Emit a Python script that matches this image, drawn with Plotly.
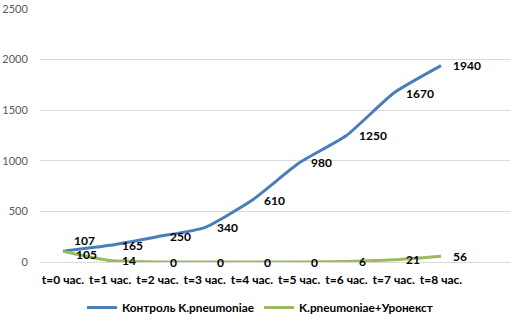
import plotly.graph_objects as go

categories = ["t=0 час.", "t=1 час.", "t=2 час.", "t=3 час.", "t=4 час.",
              "t=5 час.", "t=6 час.", "t=7 час.", "t=8 час."]
control = [107, 165, 250, 340, 610, 980, 1250, 1670, 1940]
treated = [105, 14, 0, 0, 0, 0, 6, 21, 56]
name_control = "Контроль K.pneumoniae"
name_treated = "K.pneumoniae+Уронекст"
y_ticks = [0, 500, 1000, 1500, 2000, 2500]

BLUE = "#4A7EBB"
GREEN = "#9BBB59"
FONT = "Lato"

xs = list(range(len(categories)))

fig = go.Figure()
fig.add_trace(go.Scatter(x=xs, y=control, mode="lines", name=f"<b>{name_control}</b>",
                         line=dict(color=BLUE, width=3, shape="spline", smoothing=0.5)))
fig.add_trace(go.Scatter(x=xs, y=treated, mode="lines", name=f"<b>{name_treated}</b>",
                         line=dict(color=GREEN, width=3, shape="spline", smoothing=0.5)))

annotations = []
for i, v in enumerate(control):
    xshift, yshift = 10, 0
    if i == 0:
        xshift, yshift = 9, 11
    annotations.append(dict(x=i, y=v, xref="x", yref="y", text=f"<b>{v}</b>",
                            showarrow=False, xanchor="left", yanchor="middle",
                            xshift=xshift, yshift=yshift,
                            font=dict(family=FONT, size=12, color="#000000")))
for i, v in enumerate(treated):
    xshift, yshift = 10, 0
    if i == 0:
        xshift, yshift = 11, -3
    annotations.append(dict(x=i, y=v, xref="x", yref="y", text=f"<b>{v}</b>",
                            showarrow=False, xanchor="left", yanchor="middle",
                            xshift=xshift, yshift=yshift,
                            font=dict(family=FONT, size=12, color="#000000")))

fig.update_layout(
    width=517, height=321,
    margin=dict(l=40, r=7, t=9, b=59, autoexpand=False),
    paper_bgcolor="white", plot_bgcolor="white",
    annotations=annotations,
    showlegend=True,
    legend=dict(orientation="h", x=0.468, xanchor="center", y=-0.18, yanchor="middle",
                font=dict(family=FONT, size=11.8, color="#000000"),
                itemwidth=30, tracegroupgap=0),
    xaxis=dict(tickmode="array", tickvals=xs,
               ticktext=[f"<b>{c}</b>" for c in categories],
               range=[-0.487, 9.46], showgrid=False, zeroline=False, automargin=False,
               showline=False, ticks="outside", ticklen=7, tickcolor="rgba(0,0,0,0)",
               tickfont=dict(family=FONT, size=12, color="#000000")),
    yaxis=dict(range=[0, 2500], tickvals=y_ticks, showgrid=True, automargin=False,
               gridcolor="#D9D9D9", gridwidth=1, zeroline=True, zerolinecolor="#D9D9D9",
               zerolinewidth=1, showline=False, ticks="outside", ticklen=9,
               tickcolor="rgba(0,0,0,0)",
               tickfont=dict(family=FONT, size=11, color="#595959")),
)

fig.write_html("out.html", config={"displayModeBar": False},
               post_script="document.body.style.margin='0';")
